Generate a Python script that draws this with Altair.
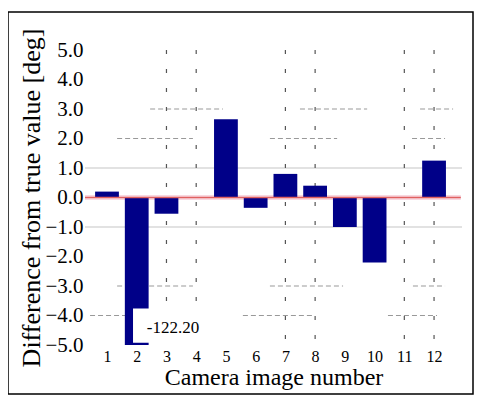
import altair as alt
import pandas as pd

cameras = [1, 2, 3, 4, 5, 6, 7, 8, 9, 10, 11, 12]
differences = [0.2, -122.20, -0.55, 0.0, 2.65, -0.35, 0.8, 0.4, -1.0, -2.2, 0.0, 1.25]
y_ticks = [5.0, 4.0, 3.0, 2.0, 1.0, 0.0, -1.0, -2.0, -3.0, -4.0, -5.0]
dashed_cols = [3, 4, 7, 8, 11, 12]
grid_vals = [1.0, -1.0]
hseg_y = [3.0, 3.0, 3.0, 2.0, 2.0, 2.0, -3.0, -3.0, -3.0, -4.0, -4.0, -4.0]
hseg_x1 = [2.45, 7.49, 11.53, 1.34, 6.48, 11.26, 1.34, 6.48, 11.29, 0.43, 5.57, 10.45]
hseg_x2 = [4.90, 9.75, 12.64, 3.89, 8.74, 12.37, 3.89, 8.94, 12.37, 1.94, 7.93, 12.10]

FONT = "Liberation Serif"

df = pd.DataFrame({"cam": cameras, "diff": differences})
df["x1"] = df["cam"] - 0.4
df["x2"] = df["cam"] + 0.4
df["zero"] = 0.0

xs = alt.Scale(domain=[0.26, 12.94], nice=False, zero=False)
ys = alt.Scale(domain=[-5.0, 5.0], nice=False, zero=False, clamp=True)

x_axis = alt.Axis(values=cameras, format="d", title="Camera image number",
                  grid=False, domain=False, ticks=False, labelPadding=3,
                  labelOverlap=False, labelFlush=False,
                  labelFont=FONT, labelFontSize=16, labelColor="black",
                  titleFont=FONT, titleFontSize=24, titleFontWeight="normal",
                  titleColor="black", titlePadding=1)
y_axis = alt.Axis(values=y_ticks, format=".1f",
                  title="Difference  from true value [deg]",
                  grid=False, domain=False, ticks=False, labelPadding=2,
                  labelOverlap=False, labelFlush=False,
                  labelFont=FONT, labelFontSize=21, labelColor="black",
                  titleFont=FONT, titleFontSize=26, titleFontWeight="normal",
                  titleColor="black", titlePadding=0)

bars = alt.Chart(df).mark_rect(color="#000088").encode(
    x=alt.X("x1:Q", scale=xs, axis=x_axis), x2="x2:Q",
    y=alt.Y("zero:Q", scale=ys, axis=y_axis), y2="diff:Q")

grid_df = pd.DataFrame({"g": grid_vals, "a": 0.26, "b": 12.94})
grid = alt.Chart(grid_df).mark_rule(color="#e2e2e2", strokeWidth=2).encode(
    y=alt.Y("g:Q", scale=ys, axis=y_axis), x=alt.X("a:Q", scale=xs, axis=x_axis), x2="b:Q")

hdf = pd.DataFrame({"hy": hseg_y, "hx1": hseg_x1, "hx2": hseg_x2})
hsegs = alt.Chart(hdf).mark_rule(color="#999999", strokeWidth=1, strokeDash=[5, 3]).encode(
    y=alt.Y("hy:Q", scale=ys, axis=y_axis), x=alt.X("hx1:Q", scale=xs, axis=x_axis), x2="hx2:Q")

vdf = pd.DataFrame({"c": dashed_cols, "top": 5.0, "bot": -5.0})
vlines = alt.Chart(vdf).mark_rule(color="#555555", strokeWidth=1.2, strokeDash=[4, 15]).encode(
    x=alt.X("c:Q", scale=xs, axis=x_axis), y=alt.Y("top:Q", scale=ys, axis=y_axis), y2="bot:Q")

zdf = pd.DataFrame({"z": [0.0], "a": [0.26], "b": [12.9]})
zglow = alt.Chart(zdf).mark_rule(color="#f8d8e0", strokeWidth=5).encode(
    y=alt.Y("z:Q", scale=ys, axis=y_axis), x=alt.X("a:Q", scale=xs, axis=x_axis), x2="b:Q")

zline = alt.Chart(zdf).mark_rule(color="#e06060", strokeWidth=1.5).encode(
    y=alt.Y("z:Q", scale=ys, axis=y_axis), x=alt.X("a:Q", scale=xs, axis=x_axis), x2="b:Q")

out = df[df["diff"] < -5.0].copy()
out["bx1"] = out["cam"] - 0.125
out["bx2"] = out["cam"] + 2.2
out["by1"] = -3.76
out["by2"] = -4.92
out["tx"] = out["cam"] + 1.22
out["ty"] = -4.41
out["lbl"] = out["diff"].map(lambda v: f"{v:.2f}")

box = alt.Chart(out).mark_rect(color="white").encode(
    x=alt.X("bx1:Q", scale=xs, axis=x_axis), x2="bx2:Q",
    y=alt.Y("by1:Q", scale=ys, axis=y_axis), y2="by2:Q")
label = alt.Chart(out).mark_text(font=FONT, fontSize=17, color="black").encode(
    x=alt.X("tx:Q", scale=xs, axis=x_axis), y=alt.Y("ty:Q", scale=ys, axis=y_axis), text="lbl:N")

border = alt.Chart(pd.DataFrame({"k": [0]})).mark_rect(
    filled=False, stroke="black", strokeWidth=1.5).encode(
    x=alt.value(-77), x2=alt.value(388), y=alt.value(-38), y2=alt.value(344))

chart = alt.layer(grid, hsegs, vlines, zglow, bars, zline, box, label, border).properties(
    width=377, height=295,
    autosize=alt.AutoSizeParams(type="none"),
    padding={"left": 77, "top": 42, "right": 12, "bottom": 50},
    background="white",
).configure_view(stroke=None).configure_axis(labelOverlap=False)

chart.save("out.html", embed_options={"renderer": "svg", "actions": False})
